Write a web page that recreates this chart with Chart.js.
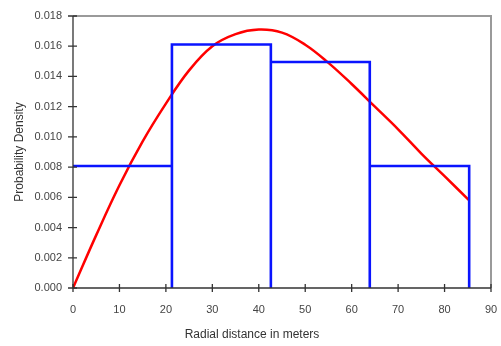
<!DOCTYPE html>
<html>
<head>
<meta charset="utf-8">
<script src="https://cdn.jsdelivr.net/npm/chart.js@4/dist/chart.umd.min.js"></script>
<style>
html,body{margin:0;padding:0;background:#fff;}
#wrap{width:501px;height:346px;position:relative;}
</style>
</head>
<body>
<div id="wrap"><canvas id="c" width="501" height="346"></canvas></div>
<script>
const binEdges = [0, 21.3, 42.6, 63.9, 85.3];
const binDensity = [0.00807, 0.01611, 0.01496, 0.00807];
const curveX = [0, 5, 10, 15, 20, 25, 30, 35, 40, 45, 50, 55, 60, 65, 70, 75, 80, 85.3];
const curveY = [0, 0.0035, 0.0068, 0.0097, 0.0122, 0.0144, 0.0160, 0.0168, 0.0171, 0.0169, 0.0161, 0.0149, 0.0135, 0.0120, 0.0105, 0.0089, 0.0074, 0.0058];
const xTicks = [0, 10, 20, 30, 40, 50, 60, 70, 80, 90];
const yTicks = [0, 0.002, 0.004, 0.006, 0.008, 0.010, 0.012, 0.014, 0.016, 0.018];
const xTitle = 'Radial distance in meters';
const yTitle = 'Probability Density';

const histPts = [];
for (let i = 0; i < binDensity.length; i++) {
  if (i > 0) histPts.push({x: binEdges[i], y: 0});
  histPts.push({x: binEdges[i], y: binDensity[i]});
  histPts.push({x: binEdges[i + 1], y: binDensity[i]});
  histPts.push({x: binEdges[i + 1], y: 0});
}
const curvePts = curveX.map((x, i) => ({x: x, y: curveY[i]}));

const FONT = '"Liberation Sans", Arial, sans-serif';

const decor = {
  id: 'decor',
  beforeDatasetsDraw(chart) {
    const {ctx, chartArea: a} = chart;
    ctx.save();
    ctx.strokeStyle = '#9a9a9a';
    ctx.lineWidth = 2;
    ctx.beginPath();
    ctx.moveTo(a.left, a.top);
    ctx.lineTo(a.right, a.top);
    ctx.lineTo(a.right, a.bottom);
    ctx.stroke();
    ctx.restore();
  },
  afterDatasetsDraw(chart) {
    const {ctx, chartArea: a, scales} = chart;
    ctx.save();
    ctx.strokeStyle = '#333';
    ctx.lineWidth = 1.3;
    ctx.beginPath();
    ctx.moveTo(a.left, a.top);
    ctx.lineTo(a.left, a.bottom);
    ctx.lineTo(a.right, a.bottom);
    ctx.stroke();
    ctx.beginPath();
    xTicks.forEach(v => {
      const px = scales.x.getPixelForValue(v);
      ctx.moveTo(px, a.bottom - 4);
      ctx.lineTo(px, a.bottom + 4);
    });
    yTicks.forEach(v => {
      const py = scales.y.getPixelForValue(v);
      ctx.moveTo(a.left - 5, py);
      ctx.lineTo(a.left + 4, py);
    });
    ctx.stroke();
    ctx.fillStyle = '#333';
    ctx.font = '12px ' + FONT;
    ctx.textAlign = 'center';
    ctx.textBaseline = 'middle';
    ctx.fillText(xTitle, 252, 335);
    ctx.translate(20, (a.top + a.bottom) / 2);
    ctx.rotate(-Math.PI / 2);
    ctx.fillText(yTitle, 0, 0);
    ctx.restore();
  }
};

new Chart(document.getElementById('c'), {
  type: 'scatter',
  data: {
    datasets: [
      {
        data: histPts,
        showLine: true,
        borderColor: '#0a14ff',
        borderWidth: 2.6,
        pointRadius: 0,
        tension: 0,
        fill: false,
        borderJoinStyle: 'miter'
      },
      {
        data: curvePts,
        showLine: true,
        borderColor: '#ff0000',
        borderWidth: 2.5,
        pointRadius: 0,
        tension: 0.4,
        fill: false
      }
    ]
  },
  options: {
    responsive: false,
    animation: false,
    devicePixelRatio: 1,
    layout: {padding: {left: 0, right: 10, top: 16, bottom: 0}},
    plugins: {legend: {display: false}, tooltip: {enabled: false}},
    scales: {
      x: {
        type: 'linear', min: 0, max: 90,
        afterBuildTicks: s => { s.ticks = xTicks.map(v => ({value: v})); },
        afterFit: s => { s.height = 58; s.paddingLeft = 0; s.paddingRight = 0; },
        grid: {display: false, drawTicks: false},
        border: {display: false},
        ticks: {padding: 15, color: '#444', font: {family: FONT, size: 11}, maxRotation: 0,
                callback: v => String(v)}
      },
      y: {
        type: 'linear', min: 0, max: 0.018,
        afterBuildTicks: s => { s.ticks = yTicks.map(v => ({value: v})); },
        afterFit: s => { s.width = 73; s.paddingTop = 0; s.paddingBottom = 0; },
        grid: {display: false, drawTicks: false},
        border: {display: false},
        ticks: {padding: 11, color: '#444', font: {family: FONT, size: 11},
                callback: v => Number(v).toFixed(3)}
      }
    }
  },
  plugins: [decor]
});
</script>
</body>
</html>
